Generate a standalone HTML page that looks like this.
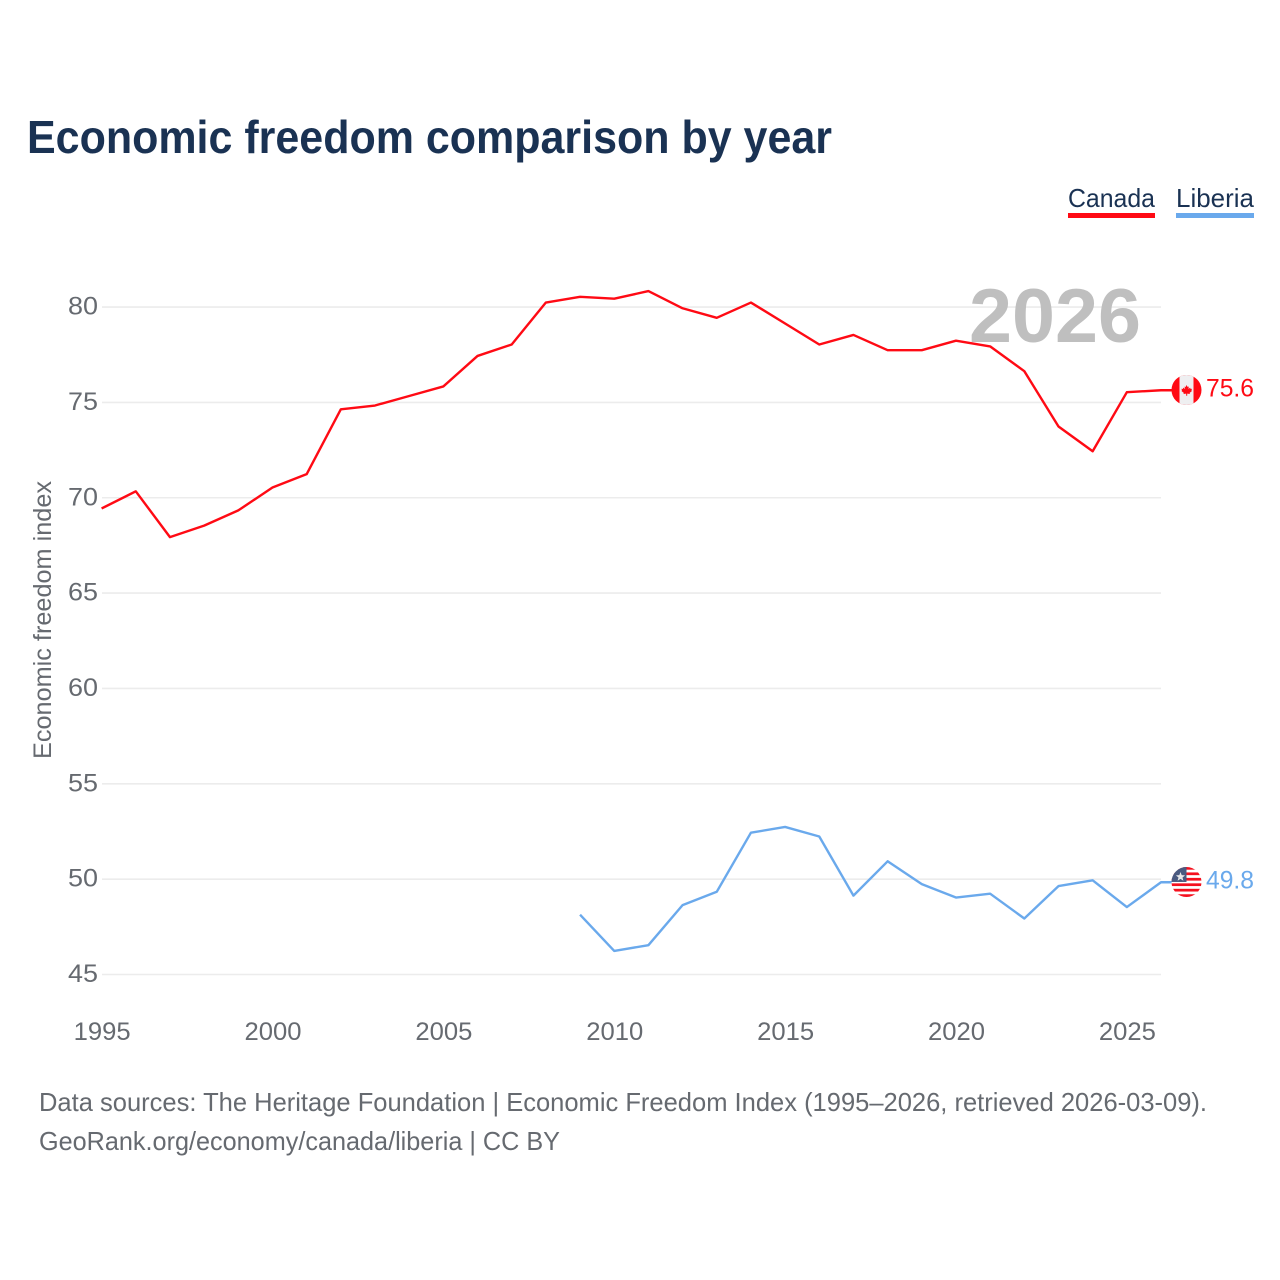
<!DOCTYPE html>
<html lang="en">
<head>
<meta charset="utf-8">
<title>Economic freedom comparison by year</title>
<style>
html,body{margin:0;padding:0;background:#fff}
svg{display:block}
text{font-family:"Liberation Sans",sans-serif}
</style>
</head>
<body>
<svg id="chart" xmlns="http://www.w3.org/2000/svg" width="1280" height="1280" viewBox="0 0 1280 1280">
  <rect width="1280" height="1280" fill="#fff"/>
  <text x="27" y="153" font-size="46" font-weight="700" fill="#1a3253" textLength="805" lengthAdjust="spacingAndGlyphs">Economic freedom comparison by year</text>
  <g>
    <g>
      <text x="1068" y="207" font-size="26" fill="#1a3253" textLength="87" lengthAdjust="spacingAndGlyphs">Canada</text>
      <rect x="1068" y="213" width="87" height="5" fill="#ff0a14"/>
    </g>
    <g>
      <text x="1176" y="207" font-size="26" fill="#1a3253" textLength="78" lengthAdjust="spacingAndGlyphs">Liberia</text>
      <rect x="1176" y="213" width="78" height="5" fill="#6aa9ec"/>
    </g>
  </g>
  <g id="grid"></g>
  <text x="969" y="342" font-size="76" font-weight="700" fill="#bfbfbf" textLength="172" lengthAdjust="spacingAndGlyphs">2026</text>
  <g id="yticks"></g>
  <g id="xticks"></g>
  <text transform="translate(51,759) rotate(-90)" font-size="25" fill="#666a70" textLength="278" lengthAdjust="spacingAndGlyphs">Economic freedom index</text>
  <g id="series"></g>
  <g id="flags"></g>
  <g>
    <text x="39" y="1111" font-size="26" fill="#666a70" textLength="1168" lengthAdjust="spacingAndGlyphs">Data sources: The Heritage Foundation | Economic Freedom Index (1995–2026, retrieved 2026-03-09).</text>
    <text x="39" y="1150" font-size="26" fill="#666a70" textLength="521" lengthAdjust="spacingAndGlyphs">GeoRank.org/economy/canada/liberia | CC BY</text>
  </g>
</svg>
<script>
var yTicks = [45, 50, 55, 60, 65, 70, 75, 80];
var xTicks = [1995, 2000, 2005, 2010, 2015, 2020, 2025];
var canadaYears = [1995,1996,1997,1998,1999,2000,2001,2002,2003,2004,2005,2006,2007,2008,2009,2010,2011,2012,2013,2014,2015,2016,2017,2018,2019,2020,2021,2022,2023,2024,2025,2026];
var canadaValues = [69.4,70.3,67.9,68.5,69.3,70.5,71.2,74.6,74.8,75.3,75.8,77.4,78.0,80.2,80.5,80.4,80.8,79.9,79.4,80.2,79.1,78.0,78.5,77.7,77.7,78.2,77.9,76.6,73.7,72.4,75.5,75.6];
var liberiaYears = [2009,2010,2011,2012,2013,2014,2015,2016,2017,2018,2019,2020,2021,2022,2023,2024,2025,2026];
var liberiaValues = [48.1,46.2,46.5,48.6,49.3,52.4,52.7,52.2,49.1,50.9,49.7,49.0,49.2,47.9,49.6,49.9,48.5,49.8];

var NS = 'http://www.w3.org/2000/svg';
function xScale(year) { return 101.6 + (year - 1995) * 34.175; }
function yScale(value) { return 974.5 - (value - 45) * 19.07; }
function make(tag, attrs, parent) {
  var el = document.createElementNS(NS, tag);
  for (var k in attrs) { el.setAttribute(k, attrs[k]); }
  parent.appendChild(el);
  return el;
}

var grid = document.getElementById('grid');
var yGroup = document.getElementById('yticks');
var xGroup = document.getElementById('xticks');
yTicks.forEach(function (t) {
  var line = make('line', {x1: 102, x2: 1161, y1: yScale(t), y2: yScale(t), stroke: '#ececec', 'stroke-width': 1.6}, grid);
  
  
  var label = make('text', {x: 98, y: yScale(t) + 7.5, 'text-anchor': 'end', 'font-size': 25, fill: '#666a70', textLength: 30, lengthAdjust: 'spacingAndGlyphs'}, yGroup);
  
  
  label.textContent = t;
});
xTicks.forEach(function (t) {
  var label = make('text', {x: xScale(t) + 0.6, y: 1040, 'text-anchor': 'middle', 'font-size': 25, fill: '#666a70', textLength: 57, lengthAdjust: 'spacingAndGlyphs'}, xGroup);
  
  
  label.textContent = t;
});

var seriesGroup = document.getElementById('series');
var flagGroup = document.getElementById('flags');
function drawLine(name, years, values, color) {
  var pts = years.map(function (y, i) { return xScale(y).toFixed(2) + ',' + (yScale(values[i]) - 0.7).toFixed(2); });
  var lastY = yScale(values[values.length - 1]) - 0.7;
  pts.push('1172,' + lastY.toFixed(2));
  var line = make('polyline', {points: pts.join(' '), fill: 'none', stroke: color, 'stroke-width': 2.4, 'stroke-linejoin': 'round'}, seriesGroup);
  
  
}
drawLine('canada', canadaYears, canadaValues, '#ff0a14');
drawLine('liberia', liberiaYears, liberiaValues, '#6aa9ec');

function endValue(name, value, color) {
  var t = make('text', {x: 1254, y: yScale(value) + 5.5, 'text-anchor': 'end', 'font-size': 25, fill: color, textLength: 48, lengthAdjust: 'spacingAndGlyphs'}, flagGroup);
  
  
  t.textContent = value.toFixed(1);
}
var cv = canadaValues[canadaValues.length - 1];
var lv = liberiaValues[liberiaValues.length - 1];
var cy = yScale(cv) - 1;
var ly = yScale(lv) - 1;

var defs = make('defs', {}, flagGroup);
var c1 = make('clipPath', {id: 'clip-ca'}, defs);
make('circle', {cx: 1186.5, cy: cy, r: 15}, c1);
var c2 = make('clipPath', {id: 'clip-lr'}, defs);
make('circle', {cx: 1186.5, cy: ly, r: 15}, c2);

var ca = make('g', {'clip-path': 'url(#clip-ca)'}, flagGroup);


make('rect', {x: 1171, y: cy - 15, width: 31, height: 30, fill: '#ff0a14'}, ca);
make('rect', {x: 1179.5, y: cy - 15, width: 14, height: 30, fill: '#efeff1'}, ca);
make('path', {d: 'M1186.5 ' + (cy - 5) + 'l1.2 2.1 1.1-.5-.3 2.4 1.6-1.3.5 1.3 1.4-.2-.6 1.8.6.5-2.4 1.8.3 1.1-2.7-.3v2.1h-1v-2.1l-2.7.3.3-1.1-2.4-1.8.6-.5-.6-1.8 1.4.2.5-1.3 1.6 1.3-.3-2.4 1.1.5z', fill: '#ff0a14'}, ca);

var lr = make('g', {'clip-path': 'url(#clip-lr)'}, flagGroup);


make('rect', {x: 1171, y: ly - 15, width: 31, height: 30, fill: '#fff'}, lr);
for (var i = 0; i < 6; i++) {
  make('rect', {x: 1171, y: ly - 15 + i * 5.46, width: 31, height: 2.73, fill: '#f5101e'}, lr);
}
make('rect', {x: 1171, y: ly - 15, width: 15.5, height: 15, fill: '#4a5a80'}, lr);
make('path', {d: 'M1180.5 ' + (ly - 10) + 'l1.2 3.2 3.4.2-2.6 2.1.9 3.3-2.9-1.9-2.9 1.9.9-3.3-2.6-2.1 3.4-.2z', fill: '#e8e8e8'}, lr);

endValue('canada', cv, '#ff0a14');
endValue('liberia', lv, '#6aa9ec');
</script>
</body>
</html>
